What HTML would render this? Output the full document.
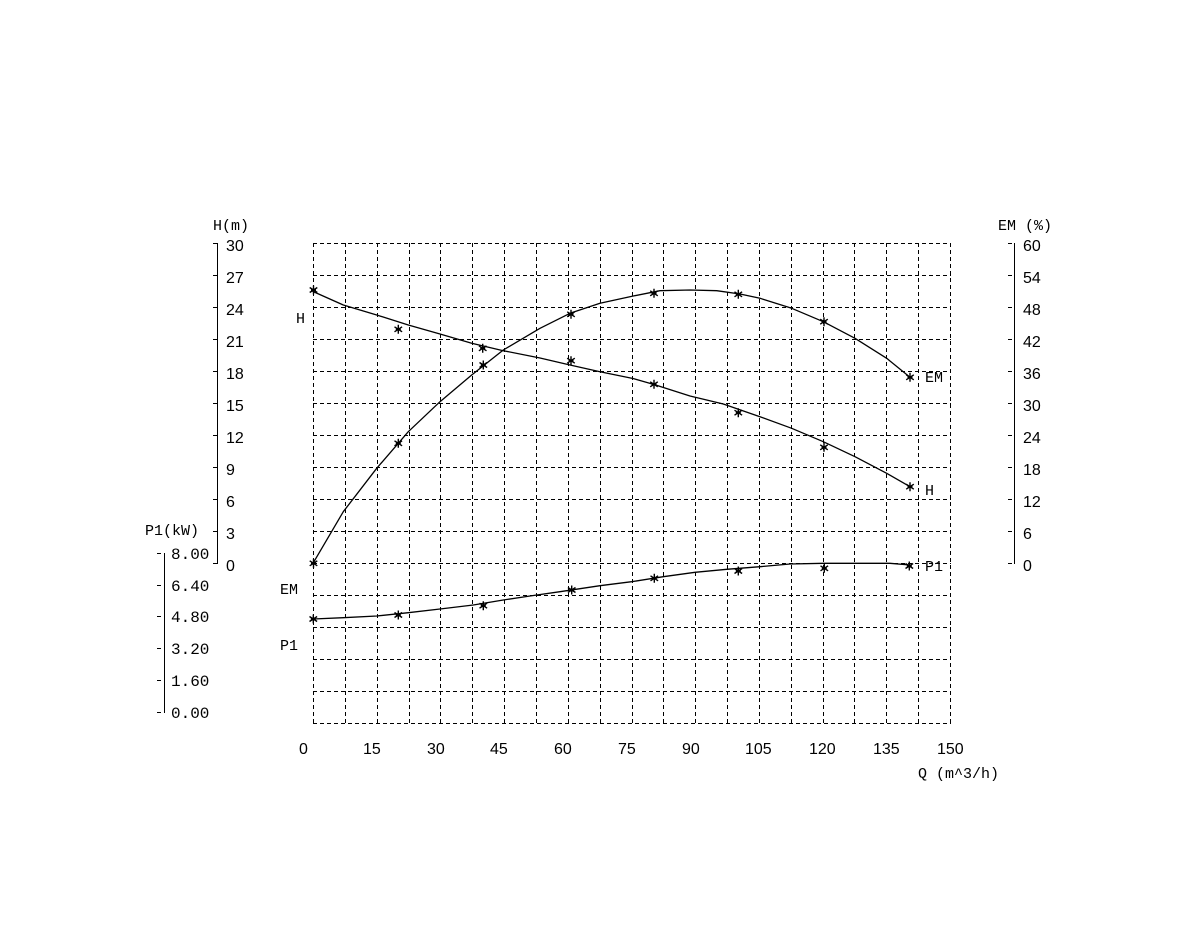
<!DOCTYPE html>
<html><head><meta charset="utf-8"><style>
html,body{margin:0;padding:0;background:#fff;}
svg{display:block;}
.num{font-family:"Liberation Sans",sans-serif;font-size:16px;fill:#000;}
.mono{font-family:"Liberation Mono",monospace;font-size:15px;fill:#000;}
.p1n{font-family:"Liberation Mono",monospace;font-size:16px;fill:#000;}
</style></head><body>
<svg width="1200" height="950" viewBox="0 0 1200 950" xmlns="http://www.w3.org/2000/svg">
<rect width="1200" height="950" fill="#fff"/>
<g stroke="#000" stroke-width="1" stroke-dasharray="4 3" shape-rendering="crispEdges" fill="none">
<path d="M313 243.5H951M313 275.5H951M313 307.5H951M313 339.5H951M313 371.5H951M313 403.5H951M313 435.5H951M313 467.5H951M313 499.5H951M313 531.5H951M313 563.5H951M313 595.5H951M313 627.5H951M313 659.5H951M313 691.5H951M313 723.5H951"/>
<path d="M313.5 243V724M345.5 243V724M377.5 243V724M409.5 243V724M440.5 243V724M472.5 243V724M504.5 243V724M536.5 243V724M568.5 243V724M600.5 243V724M632.5 243V724M663.5 243V724M695.5 243V724M727.5 243V724M759.5 243V724M791.5 243V724M823.5 243V724M854.5 243V724M886.5 243V724M918.5 243V724M950.5 243V724"/>
</g>
<g stroke="#000" stroke-width="1" shape-rendering="crispEdges" fill="none">
<path d="M217.5 243V564"/>
<path d="M213 243.5H217M213 275.5H217M213 307.5H217M213 339.5H217M213 371.5H217M213 403.5H217M213 435.5H217M213 467.5H217M213 499.5H217M213 531.5H217M213 563.5H217"/>
<path d="M1014.5 243V564"/>
<path d="M1008 243.5H1012M1008 275.5H1012M1008 307.5H1012M1008 339.5H1012M1008 371.5H1012M1008 403.5H1012M1008 435.5H1012M1008 467.5H1012M1008 499.5H1012M1008 531.5H1012M1008 563.5H1012"/>
<path d="M164.5 553V713"/>
<path d="M157 553.5H161M157 585.5H161M157 616.5H161M157 648.5H161M157 680.5H161M157 712.5H161"/>
</g>
<g class="num">
<text x="226" y="251">30</text><text x="226" y="283">27</text><text x="226" y="315">24</text><text x="226" y="347">21</text><text x="226" y="379">18</text><text x="226" y="411">15</text><text x="226" y="443">12</text><text x="226" y="475">9</text><text x="226" y="507">6</text><text x="226" y="539">3</text><text x="226" y="571">0</text>
<text x="1023" y="251">60</text><text x="1023" y="283">54</text><text x="1023" y="315">48</text><text x="1023" y="347">42</text><text x="1023" y="379">36</text><text x="1023" y="411">30</text><text x="1023" y="443">24</text><text x="1023" y="475">18</text><text x="1023" y="507">12</text><text x="1023" y="539">6</text><text x="1023" y="571">0</text>
<text x="299" y="754">0</text><text x="363" y="754">15</text><text x="427" y="754">30</text><text x="490" y="754">45</text><text x="554" y="754">60</text><text x="618" y="754">75</text><text x="682" y="754">90</text><text x="745" y="754">105</text><text x="809" y="754">120</text><text x="873" y="754">135</text><text x="937" y="754">150</text>
</g>
<g class="p1n">
<text x="171" y="559">8.00</text><text x="171" y="591">6.40</text><text x="171" y="622">4.80</text><text x="171" y="654">3.20</text><text x="171" y="686">1.60</text><text x="171" y="718">0.00</text>
</g>
<g class="mono">
<text x="213" y="230">H(m)</text>
<text x="998" y="230">EM (%)</text>
<text x="145" y="535">P1(kW)</text>
<text x="918" y="778">Q (m^3/h)</text>
<text x="296" y="323">H</text>
<text x="280" y="594">EM</text>
<text x="280" y="650">P1</text>
<text x="925" y="382">EM</text>
<text x="925" y="495">H</text>
<text x="925" y="571">P1</text>
</g>
<g stroke="#000" stroke-width="1.3" fill="none" stroke-linejoin="round" stroke-linecap="round">
<polyline points="313,291.5 343.3,305 376.7,315 408.3,325 440,334 471.7,343.3 503.3,350.7 540,358 570,365 600,371.7 633,378.5 654,384.5 690,396 723.3,404 760,416.7 791.7,428.3 823.3,441.7 855,456.7 886.7,473.3 910,486.7"/>
<polyline points="313,563.3 343.3,511.7 376.7,468.3 408.3,431.7 440,401.7 471.7,375 503.3,350 540,328.3 570,313.3 600,303.3 633.3,296 660,290.7 690,290 716.7,290.7 740,294 760,298.3 791.7,308.3 823.3,321.7 855,338.3 886.7,358.3 910,377.3"/>
<polyline points="313.3,619 343.3,617.7 376.7,616 408.3,612.7 440,609 473.3,605 503.3,600 530,596 560,591.7 600,585.7 631.7,581.7 663.3,576.7 695,572.3 726.7,569.3 760,566.7 790,564 823.3,563.3 890,563.3 910,565"/>
</g>
<defs>
<g id="m"><path d="M0 -4.5V4.5M-3.8 -2.5L3.8 2.5M-3.8 2.5L3.8 -2.5M-2.5 0H2.5" stroke="#000" stroke-width="1.4"/></g>
</defs>
<g>
<use href="#m" x="313.5" y="290"/><use href="#m" x="398.3" y="329.3"/><use href="#m" x="482.7" y="348.3"/><use href="#m" x="571" y="360.7"/><use href="#m" x="654" y="384.3"/><use href="#m" x="738.3" y="412.7"/><use href="#m" x="824" y="447.3"/><use href="#m" x="910" y="486.7"/>
<use href="#m" x="313.5" y="563.3"/><use href="#m" x="398.3" y="443.3"/><use href="#m" x="483.3" y="365"/><use href="#m" x="571" y="314.3"/><use href="#m" x="654" y="293.3"/><use href="#m" x="738.3" y="294.3"/><use href="#m" x="824" y="321.7"/><use href="#m" x="910" y="377.3"/>
<use href="#m" x="313.3" y="619"/><use href="#m" x="398.3" y="615"/><use href="#m" x="483.3" y="605.7"/><use href="#m" x="571.7" y="590"/><use href="#m" x="654.3" y="578.3"/><use href="#m" x="738.3" y="571"/><use href="#m" x="824.3" y="568.3"/><use href="#m" x="909.3" y="566"/>
</g>
</svg>
</body></html>
